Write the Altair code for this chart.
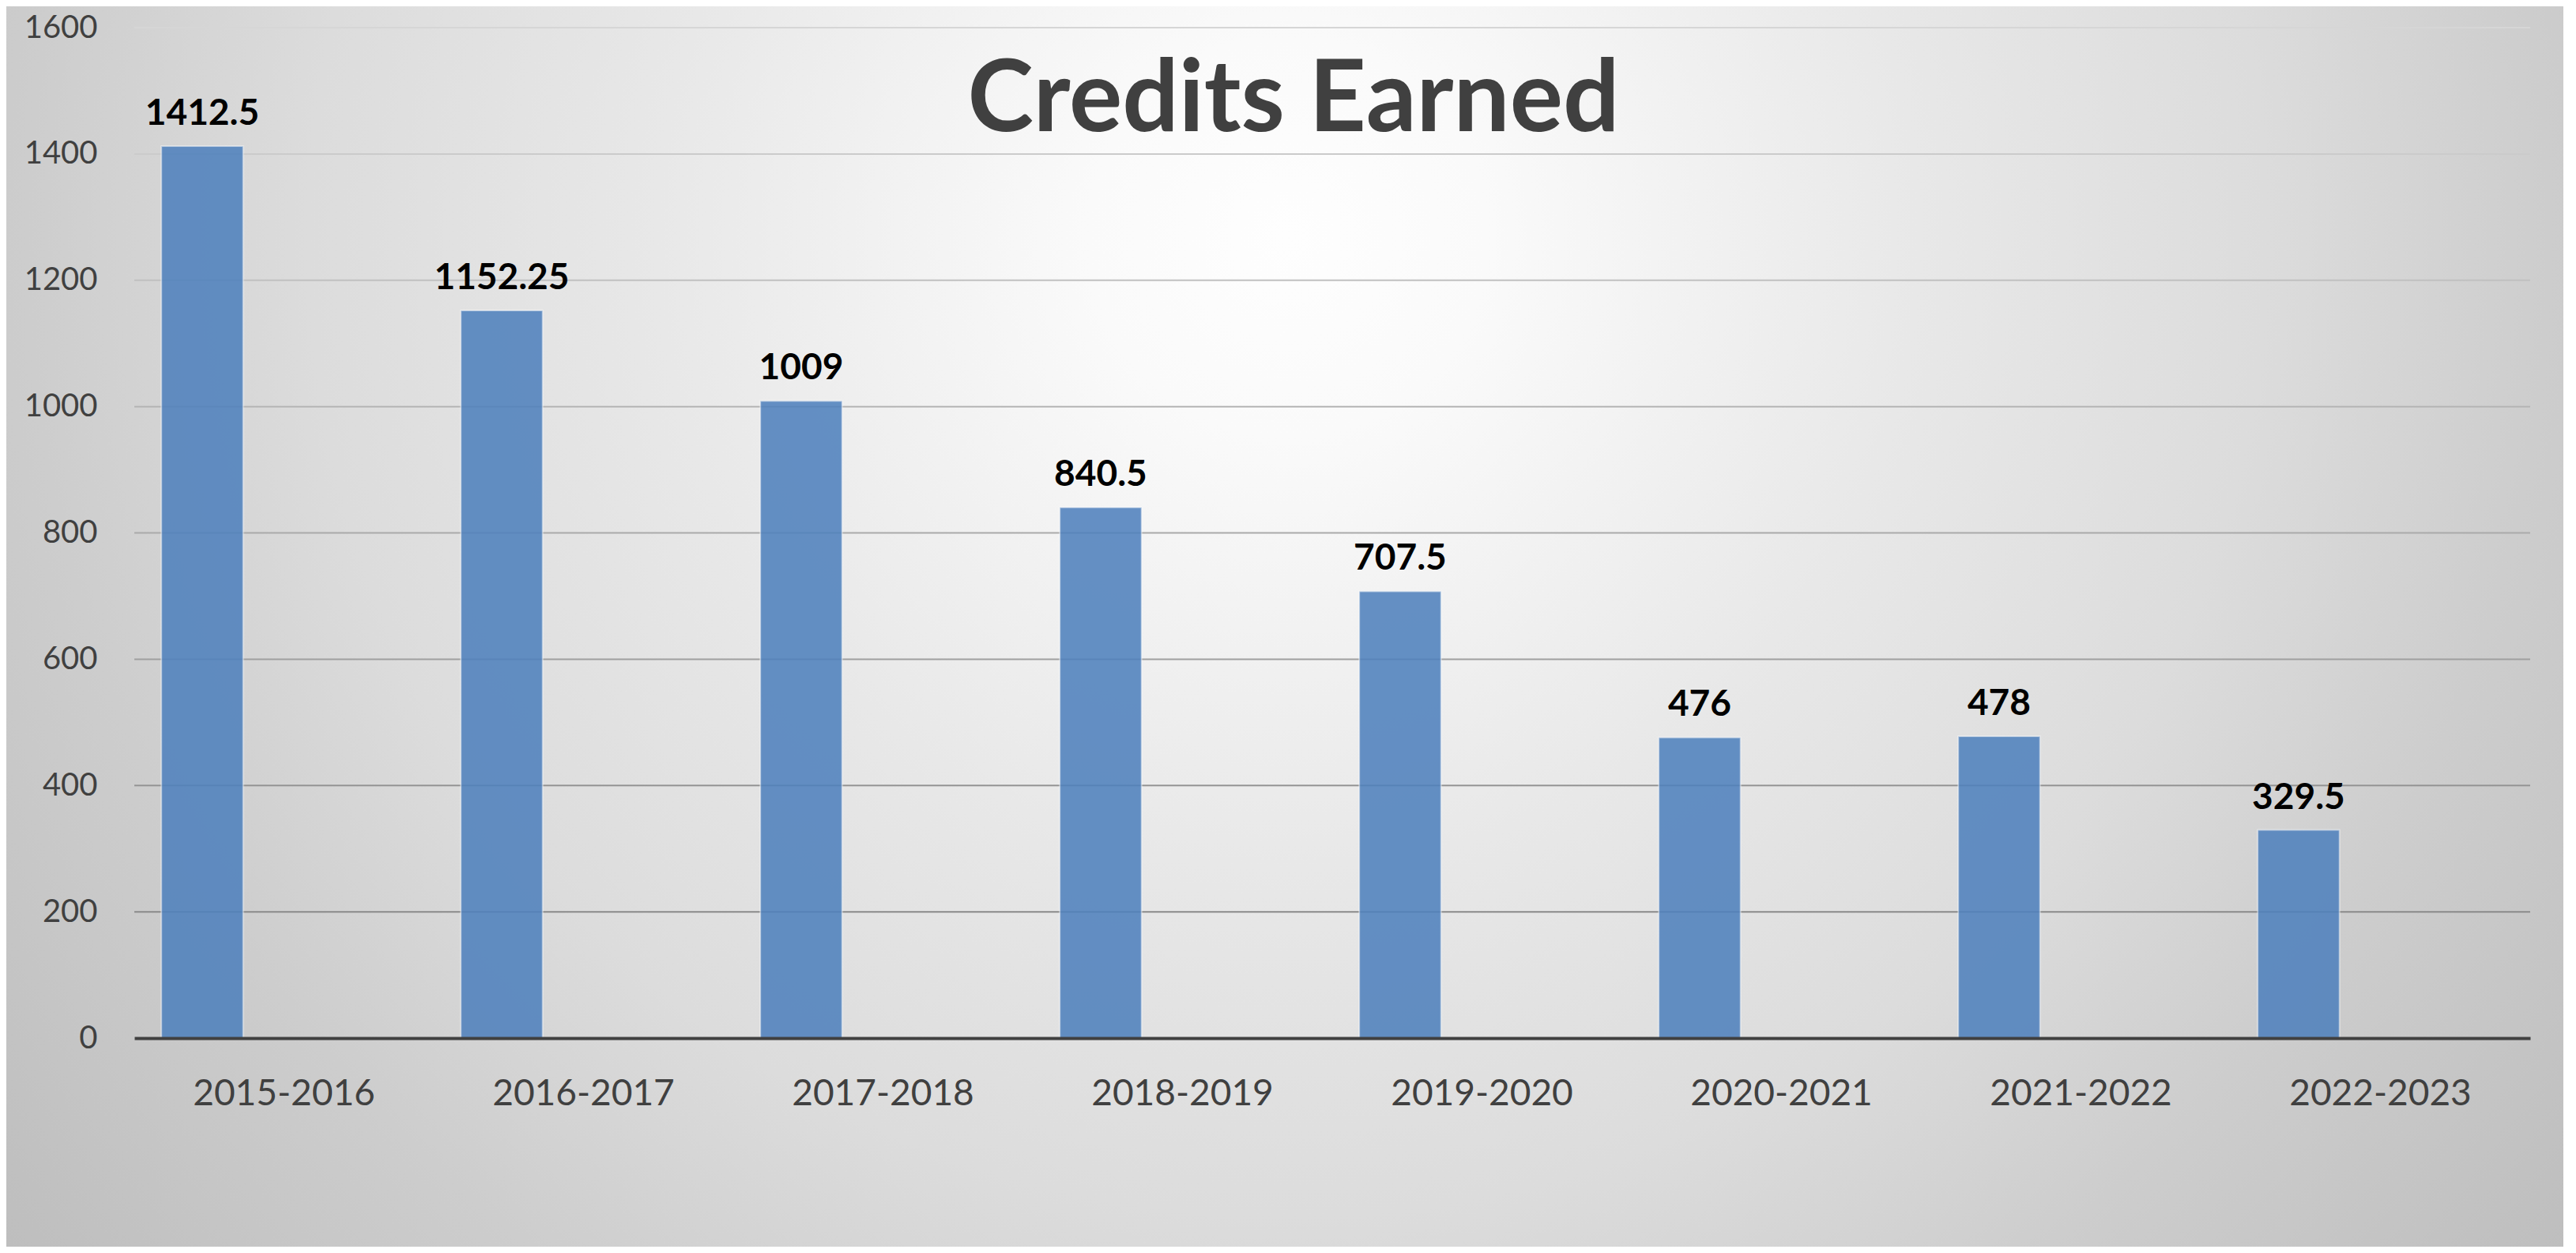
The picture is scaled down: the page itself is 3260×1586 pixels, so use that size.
import altair as alt
import pandas as pd

years = ["2015-2016", "2016-2017", "2017-2018", "2018-2019",
         "2019-2020", "2020-2021", "2021-2022", "2022-2023"]
credits = [1412.5, 1152.25, 1009, 840.5, 707.5, 476, 478, 329.5]
series = ["Credits"] * len(years)
series_slots = ["Credits", "slot2", "slot3"]
y_ticks = [0, 200, 400, 600, 800, 1000, 1200, 1400, 1600]
grid_values = [200, 400, 600, 800, 1000, 1200, 1400, 1600]
title_text = ["Credits Earned"]

W, H = 3032, 1279
FONT = "Lato"

df = pd.DataFrame({"year": years, "credits": credits, "series": series})
df["label"] = [("%g" % v) for v in credits]

x_enc = alt.X("year:N", sort=years,
              scale=alt.Scale(paddingInner=0, paddingOuter=0),
              axis=alt.Axis(title=None, labelAngle=0, labelFont=FONT, labelFontSize=46,
                            labelColor="#404040", ticks=False, tickSize=0, labelPadding=48,
                            labelLimit=600,
                            domainColor="#404040", domainWidth=4, grid=False, zindex=1))
xo_enc = alt.XOffset("series:N", scale=alt.Scale(domain=series_slots, paddingOuter=0.33, paddingInner=0))
y_scale = alt.Scale(domain=[0, 1600], nice=False, zero=True)
y_axis = alt.Axis(title=None, values=y_ticks, format="d", labelFont=FONT, labelFontSize=40,
                  labelColor="#404040", ticks=False, tickSize=0, labelPadding=47,
                  domain=False, grid=False, zindex=1)
y_enc = alt.Y("credits:Q", scale=y_scale, axis=y_axis)

bg = alt.Chart(alt.Data(values=[{"a": 1}])).mark_rect(
    fill={
        "gradient": "radial",
        "x1": 0.5, "y1": 0.5, "r1": 0,
        "x2": 0.5, "y2": 0.5, "r2": 0.5,
        "stops": [
            {"offset": 0.0, "color": "#fefefe"},
            {"offset": 0.12, "color": "#fafafa"},
            {"offset": 0.38, "color": "#e8e8e8"},
            {"offset": 0.59, "color": "#dcdcdc"},
            {"offset": 0.76, "color": "#cdcdcd"},
            {"offset": 0.95, "color": "#c0c0c0"},
            {"offset": 1.0, "color": "#bdbdbd"},
        ],
    }
).encode(x=alt.value(-640), x2=alt.value(3560), y=alt.value(-1835), y2=alt.value(2365))

grid = alt.Chart(pd.DataFrame({"g": grid_values})).mark_rule(strokeWidth=2).encode(
    y=alt.Y("g:Q", scale=y_scale, axis=y_axis),
    color=alt.Color("g:Q", scale=alt.Scale(domain=[200, 1600], range=["#8a8a8a", "#d6d6d6"]), legend=None),
)

base = alt.Chart(df)
bars = base.mark_bar(color="#4F81BD", opacity=0.87, stroke="#ffffff", strokeOpacity=0.5,
                     strokeWidth=2).encode(x=x_enc, xOffset=xo_enc, y=y_enc)
labels = base.mark_text(font=FONT, fontSize=46, fontWeight="bold", color="#000000",
                        baseline="alphabetic", dy=-27).encode(
    x=x_enc, xOffset=xo_enc, y=y_enc, text="label:N")

title = alt.Chart(pd.DataFrame({"t": title_text})).mark_text(
    font=FONT, fontSize=126, fontWeight="bold", color="#404040",
    align="center", baseline="alphabetic").encode(
    x=alt.value(W / 2 - 49), y=alt.value(131), text="t:N")

chart = alt.layer(bg, grid, bars, labels, title).resolve_scale(color="independent").properties(
    width=W, height=H,
    autosize=alt.AutoSizeParams(type="none"),
    padding={"left": 162, "top": 27, "right": 42, "bottom": 264},
    background="#d0d0d0",
).configure_view(stroke=None)

chart.save("out.html", embed_options={"renderer": "svg", "actions": False})
